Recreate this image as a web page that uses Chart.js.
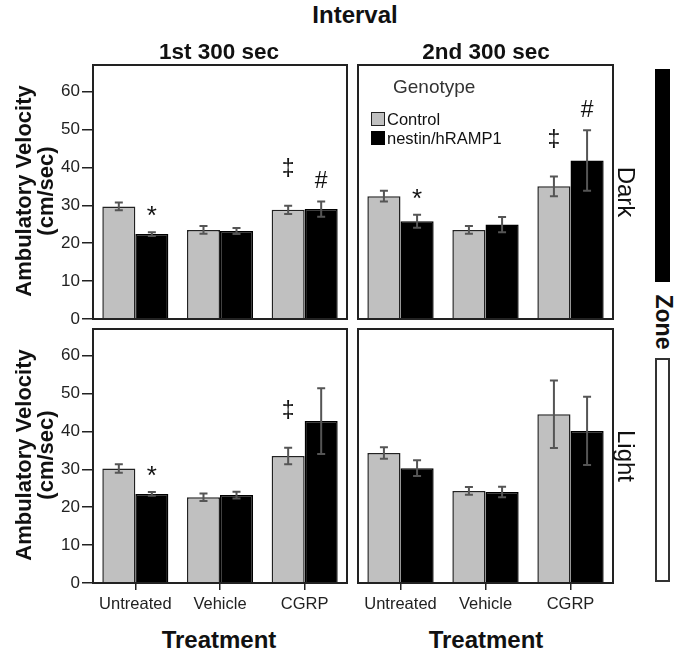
<!DOCTYPE html>
<html><head><meta charset="utf-8">
<script src="https://cdn.jsdelivr.net/npm/chart.js@4.4.1/dist/chart.umd.min.js"></script>
<style>
body{margin:0;background:#fff;width:684px;height:659px;overflow:hidden;position:relative;font-family:"Liberation Sans",Arial,sans-serif;color:#111}
canvas{position:absolute}
.t{position:absolute;white-space:nowrap;transform:translate(-50%,-50%);line-height:1}
.b{font-weight:bold}
.rl{transform:translate(-50%,-50%) rotate(-90deg)}
.rr{transform:translate(-50%,-50%) rotate(90deg)}
.sw{position:absolute;box-sizing:border-box;border:1.5px solid #222}
</style></head><body>
<canvas id="c0" width="350" height="274" style="left:0;top:60px"></canvas>
<canvas id="c1" width="262" height="274" style="left:355px;top:60px"></canvas>
<canvas id="c2" width="350" height="300" style="left:0;top:324px"></canvas>
<canvas id="c3" width="262" height="300" style="left:355px;top:324px"></canvas>

<div class="t b" style="left:355px;top:15px;font-size:24px">Interval</div>
<div class="t b" style="left:219px;top:52px;font-size:22.5px">1st 300 sec</div>
<div class="t b" style="left:486px;top:52px;font-size:22.5px">2nd 300 sec</div>
<div class="t b rl" style="left:35px;top:191px;font-size:22px;text-align:center;line-height:22px">Ambulatory Velocity<br>(cm/sec)</div>
<div class="t b rl" style="left:35px;top:455px;font-size:22px;text-align:center;line-height:22px">Ambulatory Velocity<br>(cm/sec)</div>
<div class="t b" style="left:219px;top:640px;font-size:24px">Treatment</div>
<div class="t b" style="left:486px;top:640px;font-size:24px">Treatment</div>
<div class="t rr" style="left:626px;top:192px;font-size:24px">Dark</div>
<div class="t rr" style="left:626px;top:456px;font-size:24px">Light</div>
<div style="position:absolute;left:655px;top:69px;width:15px;height:213px;background:#000"></div>
<div class="t b rr" style="left:663px;top:322px;font-size:23px">Zone</div>
<div style="position:absolute;box-sizing:border-box;left:655px;top:358px;width:15px;height:224px;border:2px solid #333;background:#fff"></div>

<div id="legend"></div>

<script>
// ---- data ----
const categories = ['Untreated', 'Vehicle', 'CGRP'];
const seriesNames = ['Control', 'nestin/hRAMP1'];
const legendTitle = 'Genotype';
const yTicks = [0, 10, 20, 30, 40, 50, 60];

const darkFirstControl = [29.7, 23.5, 28.8];
const darkFirstControlErr = [1.0, 1.0, 1.1];
const darkFirstNestin = [22.4, 23.2, 29.0];
const darkFirstNestinErr = [0.5, 0.8, 2.0];

const darkSecondControl = [32.4, 23.5, 35.0];
const darkSecondControlErr = [1.4, 1.0, 2.6];
const darkSecondNestin = [25.8, 24.9, 41.8];
const darkSecondNestinErr = [1.7, 2.0, 8.0];

const lightFirstControl = [30.2, 22.6, 33.5];
const lightFirstControlErr = [1.1, 1.0, 2.2];
const lightFirstNestin = [23.5, 23.2, 42.7];
const lightFirstNestinErr = [0.5, 0.9, 8.7];

const lightSecondControl = [34.3, 24.3, 44.5];
const lightSecondControlErr = [1.5, 1.0, 8.9];
const lightSecondNestin = [30.3, 24.0, 40.1];
const lightSecondNestinErr = [2.1, 1.4, 9.0];

const darkFirstControlMarks = ['', '', '\u2021'];
const darkFirstNestinMarks = ['*', '', '#'];
const darkSecondControlMarks = ['', '', '\u2021'];
const darkSecondNestinMarks = ['*', '', '#'];
const lightFirstControlMarks = ['', '', '\u2021'];
const lightFirstNestinMarks = ['*', '', ''];
const lightSecondControlMarks = ['', '', ''];
const lightSecondNestinMarks = ['', '', ''];

const FAMILY = '"Liberation Sans", Arial, sans-serif';
const GRAY = '#c0c0c0';

// ---- plugins ----
const boxPlugin = {
  id: 'box',
  afterDatasetsDraw(chart) {
    const a = chart.chartArea, ctx = chart.ctx;
    ctx.save();
    ctx.strokeStyle = '#222'; ctx.lineWidth = 2;
    ctx.strokeRect(a.left, a.top, a.right - a.left, a.bottom - a.top);
    ctx.restore();
  }
};
const errPlugin = {
  id: 'err',
  afterDatasetsDraw(chart) {
    const ctx = chart.ctx, ys = chart.scales.y;
    ctx.save();
    chart.data.datasets.forEach((ds, di) => {
      const meta = chart.getDatasetMeta(di);
      meta.data.forEach((bar, i) => {
        const v = ds.data[i], e = ds.errors[i];
        const x = bar.x, y1 = ys.getPixelForValue(v + e), y2 = ys.getPixelForValue(v - e);
        ctx.strokeStyle = '#555'; ctx.lineWidth = 2;
        ctx.beginPath();
        ctx.moveTo(x, y1); ctx.lineTo(x, y2);
        ctx.moveTo(x - 4, y1); ctx.lineTo(x + 4, y1);
        ctx.moveTo(x - 4, y2); ctx.lineTo(x + 4, y2);
        ctx.stroke();
        const m = ds.marks[i];
        if (m) {
          const off = m === '\u2021' ? 36 : 20;
          ctx.fillStyle = '#111';
          ctx.font = (m === '*' ? '26px ' : '23px ') + FAMILY;
          ctx.textAlign = 'center'; ctx.textBaseline = 'middle';
          ctx.fillText(m, x, y1 - off + (m === '*' ? 5 : 0));
        }
      });
    });
    ctx.restore();
  }
};

function makePanel(id, ctrl, ctrlErr, nest, nestErr, ctrlMarks, nestMarks, showY, showX) {
  const c = document.getElementById(id);
  return new Chart(c, {
    type: 'bar',
    data: {
      labels: categories,
      datasets: [
        { label: seriesNames[0], data: ctrl, errors: ctrlErr, marks: ctrlMarks,
          backgroundColor: GRAY, borderColor: '#222', borderWidth: 1.5,
          barPercentage: 1, categoryPercentage: 0.78 },
        { label: seriesNames[1], data: nest, errors: nestErr, marks: nestMarks,
          backgroundColor: '#000', borderColor: '#000', borderWidth: 1.5,
          barPercentage: 1, categoryPercentage: 0.78 }
      ]
    },
    options: {
      responsive: false, maintainAspectRatio: false, animation: false,
      layout: { padding: { left: showY ? 0 : 3, right: showY ? 3 : 4, top: 5, bottom: showX ? 0 : 15 } },
      plugins: { legend: { display: false }, tooltip: { enabled: false } },
      scales: {
        x: {
          display: showX, offset: true,
          grid: { offset: false, drawOnChartArea: false, drawTicks: true, tickLength: 7, color: '#222', lineWidth: 1.5 },
          border: { display: false },
          ticks: { color: '#222', padding: 5, autoSkip: false, font: { size: 16.5, family: FAMILY }, maxRotation: 0 },
          afterFit: s => { s.height = showX ? 41 : 0; s.paddingLeft = 0; s.paddingRight = 0; }
        },
        y: {
          display: showY, min: 0, max: 67,
          afterBuildTicks: s => { s.ticks = yTicks.map(v => ({ value: v })); },
          grid: { drawOnChartArea: false, drawTicks: true, tickLength: 11, color: '#222', lineWidth: 1.5 },
          border: { display: false },
          ticks: { color: '#222', padding: 2, font: { size: 17, family: FAMILY } },
          afterFit: s => { s.width = showY ? 93 : 0; s.paddingTop = 0; s.paddingBottom = 0; }
        }
      }
    },
    plugins: [boxPlugin, errPlugin]
  });
}

makePanel('c0', darkFirstControl, darkFirstControlErr, darkFirstNestin, darkFirstNestinErr, darkFirstControlMarks, darkFirstNestinMarks, true, false);
makePanel('c1', darkSecondControl, darkSecondControlErr, darkSecondNestin, darkSecondNestinErr, darkSecondControlMarks, darkSecondNestinMarks, false, false);
makePanel('c2', lightFirstControl, lightFirstControlErr, lightFirstNestin, lightFirstNestinErr, lightFirstControlMarks, lightFirstNestinMarks, true, true);
makePanel('c3', lightSecondControl, lightSecondControlErr, lightSecondNestin, lightSecondNestinErr, lightSecondControlMarks, lightSecondNestinMarks, false, true);

// ---- legend (HTML) ----
const lg = document.getElementById('legend');
lg.innerHTML =
  '<div style="position:absolute;left:393px;top:76px;font-size:19px;color:#333">' + legendTitle + '</div>' +
  '<div class="sw" style="left:371px;top:112px;width:14px;height:14px;background:' + GRAY + '"></div>' +
  '<div style="position:absolute;left:387px;top:110px;font-size:16.5px;color:#111">' + seriesNames[0] + '</div>' +
  '<div class="sw" style="left:371px;top:131px;width:14px;height:14px;background:#000;border-color:#000"></div>' +
  '<div style="position:absolute;left:387px;top:129px;font-size:16.5px;color:#111">' + seriesNames[1] + '</div>';
</script>
</body></html>
